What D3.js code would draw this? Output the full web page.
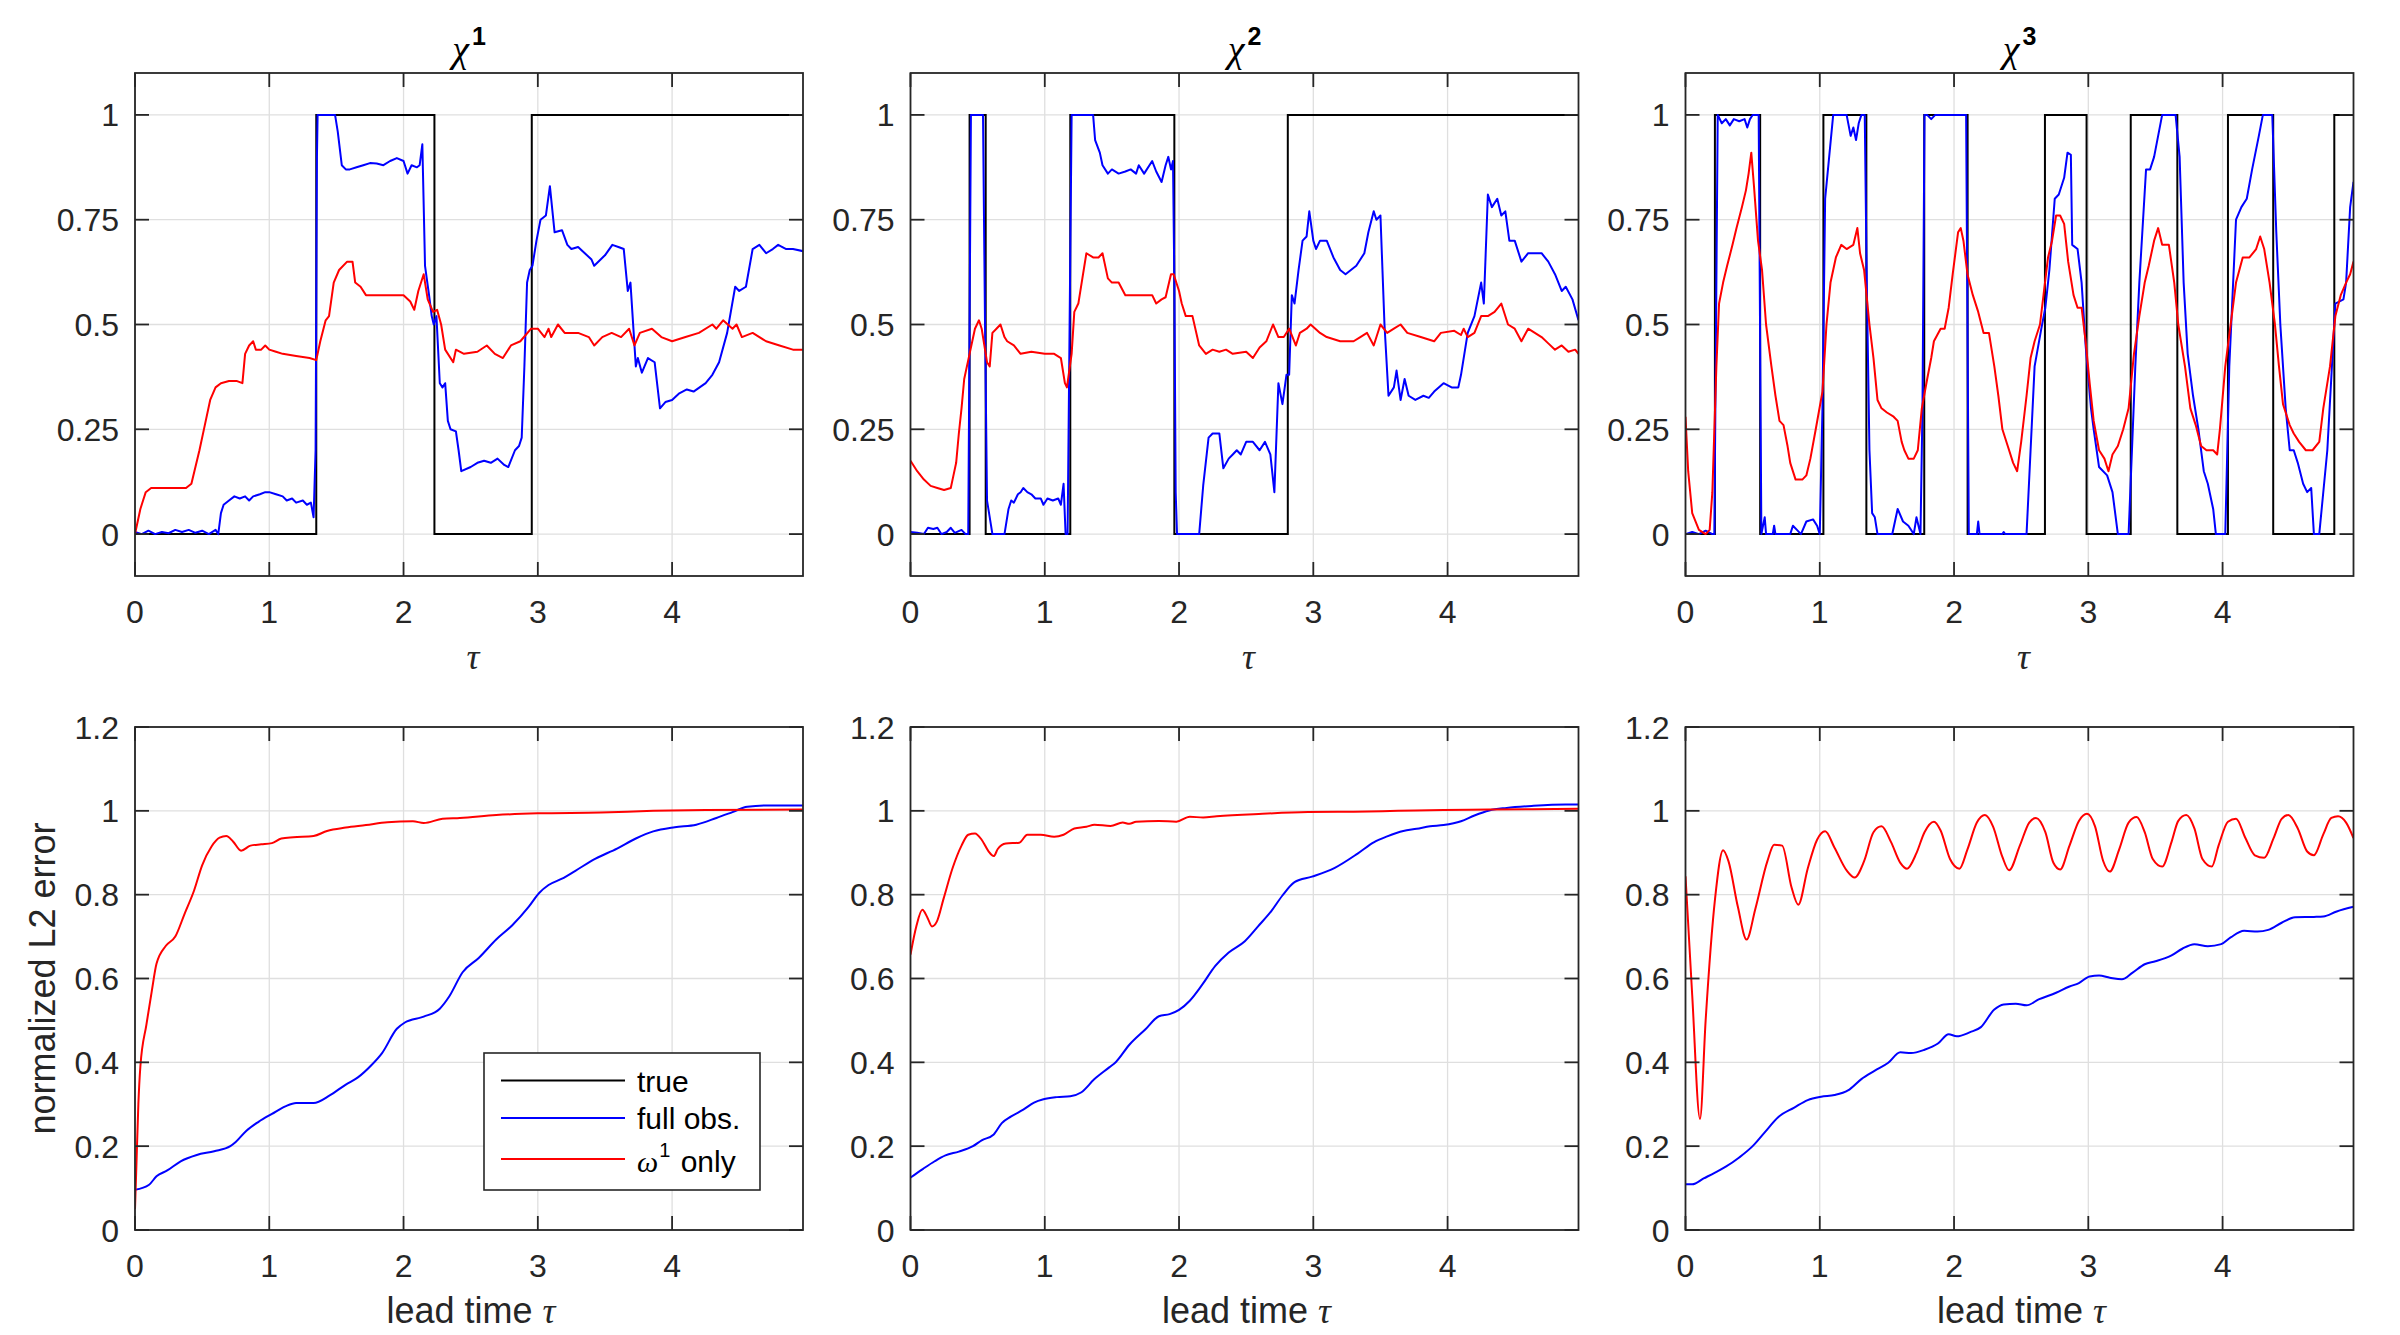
<!DOCTYPE html>
<html><head><meta charset="utf-8">
<script src="https://cdn.jsdelivr.net/npm/d3@7"></script>
<style>
html,body{margin:0;padding:0;background:#fff;}
svg{display:block;}
text{font-family:"Liberation Sans",Arial,Helvetica,sans-serif;fill:#262626;}
.it{font-family:"Liberation Serif","Times New Roman",serif;font-style:italic;}
</style></head><body>
<svg id="chart" width="2400" height="1335"></svg>
<script>
// ---------------- data ----------------
const tauTicks = [0, 1, 2, 3, 4];
const tauMax = 4.975;
const topYTicks = [0, 0.25, 0.5, 0.75, 1];
const topYLabels = ["0", "0.25", "0.5", "0.75", "1"];
const botYTicks = [0, 0.2, 0.4, 0.6, 0.8, 1, 1.2];
const botYLabels = ["0", "0.2", "0.4", "0.6", "0.8", "1", "1.2"];
const panelTitles = ["1", "2", "3"];
const legendLabels = ["true", "full obs.", "only"];

// true indicator (step) : switch times and values
const chi1TrueT = [0, 1.35, 2.23, 2.955, 4.975];
const chi1TrueV = [0, 1, 0, 1, 1];
const chi2TrueT = [0, 0.44, 0.56, 1.19, 1.965, 2.81, 4.975];
const chi2TrueV = [0, 1, 0, 1, 0, 1, 1];
const chi3TrueT = [0, 0.219, 0.556, 1.027, 1.347, 1.778, 2.101, 2.677, 2.987, 3.316, 3.663, 4.04, 4.377, 4.832, 4.975];
const chi3TrueV = [0, 1, 0, 1, 0, 1, 0, 1, 0, 1, 0, 1, 0, 1, 1];

// full observation forecast
const chi1Full = [[0,0.005],[0.05,0.0],[0.1,0.008],[0.15,0.0],[0.2,0.005],[0.25,0.002],[0.3,0.01],[0.35,0.005],[0.4,0.01],[0.45,0.003],[0.5,0.008],[0.55,0.0],[0.6,0.01],[0.62,0.0],[0.64,0.05],[0.66,0.07],[0.7,0.08],[0.74,0.09],[0.78,0.085],[0.82,0.09],[0.85,0.08],[0.88,0.09],[0.93,0.095],[0.97,0.1],[1.0,0.1],[1.05,0.095],[1.1,0.09],[1.13,0.08],[1.17,0.085],[1.2,0.075],[1.25,0.08],[1.28,0.07],[1.31,0.075],[1.33,0.04],[1.345,0.2],[1.355,0.9],[1.36,1],[1.49,1],[1.51,0.96],[1.54,0.88],[1.57,0.87],[1.6,0.87],[1.65,0.875],[1.7,0.88],[1.75,0.885],[1.8,0.884],[1.85,0.88],[1.9,0.89],[1.95,0.897],[2.0,0.89],[2.03,0.86],[2.06,0.88],[2.1,0.875],[2.12,0.88],[2.14,0.93],[2.16,0.64],[2.19,0.57],[2.21,0.52],[2.225,0.5],[2.245,0.52],[2.27,0.36],[2.29,0.35],[2.31,0.36],[2.33,0.27],[2.35,0.25],[2.39,0.245],[2.41,0.2],[2.43,0.15],[2.5,0.16],[2.55,0.17],[2.6,0.175],[2.65,0.17],[2.7,0.18],[2.75,0.165],[2.78,0.16],[2.83,0.2],[2.86,0.21],[2.88,0.23],[2.9,0.4],[2.92,0.6],[2.94,0.63],[2.96,0.64],[2.99,0.7],[3.02,0.75],[3.06,0.76],[3.09,0.83],[3.125,0.72],[3.18,0.725],[3.22,0.69],[3.25,0.68],[3.3,0.685],[3.35,0.67],[3.4,0.655],[3.42,0.64],[3.5,0.665],[3.555,0.69],[3.6,0.685],[3.64,0.68],[3.67,0.58],[3.69,0.6],[3.73,0.4],[3.745,0.42],[3.775,0.385],[3.82,0.42],[3.87,0.41],[3.91,0.3],[3.95,0.315],[4.0,0.32],[4.05,0.335],[4.11,0.345],[4.16,0.34],[4.25,0.36],[4.3,0.38],[4.35,0.41],[4.41,0.48],[4.47,0.59],[4.5,0.58],[4.55,0.59],[4.6,0.68],[4.65,0.69],[4.7,0.67],[4.75,0.68],[4.79,0.69],[4.85,0.68],[4.9,0.68],[4.975,0.675]];
const chi2Full = [[0,0.005],[0.05,0.003],[0.1,0.0],[0.13,0.015],[0.17,0.012],[0.2,0.015],[0.23,0.0],[0.27,0.005],[0.3,0.015],[0.33,0.003],[0.38,0.01],[0.41,0.0],[0.43,0.0],[0.44,0.5],[0.45,1],[0.54,1],[0.555,0.5],[0.57,0.08],[0.6,0.02],[0.61,0.0],[0.7,0.0],[0.73,0.06],[0.75,0.08],[0.77,0.075],[0.8,0.095],[0.82,0.1],[0.84,0.11],[0.87,0.1],[0.9,0.095],[0.93,0.085],[0.97,0.085],[0.99,0.07],[1.02,0.085],[1.06,0.08],[1.1,0.085],[1.12,0.07],[1.14,0.12],[1.155,0.0],[1.17,0.0],[1.185,0.5],[1.2,1],[1.36,1],[1.375,0.94],[1.41,0.91],[1.43,0.88],[1.47,0.86],[1.5,0.87],[1.55,0.86],[1.6,0.865],[1.64,0.87],[1.68,0.86],[1.7,0.88],[1.74,0.86],[1.8,0.89],[1.83,0.865],[1.87,0.84],[1.9,0.88],[1.92,0.9],[1.94,0.87],[1.955,0.89],[1.965,0.6],[1.975,0.1],[1.985,0.0],[2.15,0.0],[2.18,0.116],[2.22,0.23],[2.25,0.24],[2.3,0.24],[2.33,0.157],[2.37,0.18],[2.4,0.19],[2.43,0.2],[2.46,0.19],[2.5,0.22],[2.55,0.22],[2.6,0.2],[2.64,0.22],[2.68,0.19],[2.71,0.1],[2.74,0.36],[2.77,0.31],[2.8,0.38],[2.82,0.38],[2.84,0.57],[2.86,0.55],[2.89,0.63],[2.92,0.7],[2.95,0.71],[2.97,0.77],[3.0,0.7],[3.02,0.68],[3.05,0.7],[3.1,0.7],[3.15,0.66],[3.2,0.63],[3.24,0.62],[3.28,0.63],[3.32,0.64],[3.38,0.67],[3.41,0.72],[3.45,0.77],[3.47,0.75],[3.5,0.76],[3.53,0.5],[3.56,0.33],[3.6,0.35],[3.62,0.39],[3.65,0.32],[3.68,0.37],[3.71,0.33],[3.76,0.32],[3.82,0.33],[3.86,0.325],[3.9,0.34],[3.97,0.36],[4.03,0.35],[4.08,0.35],[4.1,0.38],[4.15,0.48],[4.2,0.52],[4.25,0.6],[4.27,0.55],[4.3,0.81],[4.33,0.78],[4.37,0.8],[4.4,0.76],[4.43,0.77],[4.46,0.7],[4.5,0.7],[4.55,0.65],[4.6,0.67],[4.7,0.67],[4.75,0.65],[4.8,0.62],[4.85,0.58],[4.88,0.59],[4.93,0.56],[4.975,0.51]];
const chi3Full = [[0,0.0],[0.05,0.005],[0.1,0.0],[0.15,0.008],[0.2,0.0],[0.215,0.0],[0.23,0.6],[0.24,1],[0.27,0.98],[0.3,0.99],[0.33,0.975],[0.36,0.99],[0.4,0.985],[0.44,0.99],[0.46,0.97],[0.48,0.99],[0.5,1],[0.545,1],[0.555,0.5],[0.565,0.0],[0.59,0.04],[0.6,0.0],[0.65,0.0],[0.66,0.02],[0.67,0.0],[0.78,0.0],[0.8,0.02],[0.83,0.01],[0.86,0.0],[0.9,0.03],[0.95,0.035],[0.98,0.02],[1.0,0.0],[1.02,0.3],[1.04,0.8],[1.07,0.9],[1.1,1],[1.2,1],[1.23,0.95],[1.25,0.97],[1.27,0.94],[1.29,0.98],[1.31,1],[1.335,1],[1.35,0.6],[1.37,0.2],[1.39,0.05],[1.41,0.04],[1.43,0.0],[1.54,0.0],[1.58,0.06],[1.62,0.03],[1.66,0.02],[1.7,0.0],[1.72,0.04],[1.75,0.0],[1.765,0.3],[1.78,1],[1.8,1],[1.83,0.99],[1.86,1],[2.09,1],[2.1,0.5],[2.11,0.0],[2.17,0.0],[2.18,0.03],[2.19,0.0],[2.36,0.0],[2.37,0.005],[2.38,0.0],[2.54,0.0],[2.57,0.2],[2.6,0.4],[2.65,0.49],[2.68,0.54],[2.71,0.63],[2.75,0.8],[2.78,0.81],[2.82,0.85],[2.845,0.91],[2.87,0.905],[2.88,0.69],[2.92,0.68],[2.95,0.6],[2.98,0.45],[3.02,0.3],[3.04,0.25],[3.08,0.16],[3.14,0.14],[3.18,0.1],[3.22,0.0],[3.3,0.0],[3.35,0.4],[3.38,0.6],[3.43,0.87],[3.46,0.87],[3.49,0.9],[3.52,0.95],[3.55,1],[3.65,1],[3.68,0.9],[3.71,0.6],[3.74,0.43],[3.78,0.33],[3.82,0.25],[3.86,0.15],[3.89,0.12],[3.93,0.06],[3.95,0.0],[4.02,0.0],[4.05,0.4],[4.1,0.75],[4.14,0.78],[4.18,0.8],[4.22,0.87],[4.27,0.95],[4.3,1],[4.37,1],[4.4,0.72],[4.43,0.5],[4.47,0.3],[4.5,0.2],[4.53,0.2],[4.56,0.17],[4.6,0.12],[4.63,0.1],[4.66,0.11],[4.68,0.0],[4.72,0.0],[4.78,0.2],[4.84,0.55],[4.9,0.56],[4.92,0.6],[4.95,0.78],[4.975,0.84]];

// omega^1 only forecast
const chi1Part = [[0,0],[0.02,0.03],[0.04,0.06],[0.06,0.08],[0.08,0.1],[0.12,0.11],[0.2,0.11],[0.3,0.11],[0.38,0.11],[0.42,0.12],[0.45,0.16],[0.48,0.2],[0.52,0.26],[0.56,0.32],[0.6,0.35],[0.64,0.36],[0.7,0.365],[0.76,0.365],[0.8,0.36],[0.82,0.43],[0.85,0.45],[0.88,0.46],[0.9,0.44],[0.94,0.44],[0.97,0.45],[1.0,0.44],[1.05,0.435],[1.1,0.43],[1.2,0.425],[1.3,0.42],[1.35,0.415],[1.38,0.46],[1.42,0.51],[1.445,0.52],[1.48,0.6],[1.52,0.63],[1.58,0.65],[1.62,0.65],[1.64,0.6],[1.68,0.59],[1.72,0.57],[1.8,0.57],[1.9,0.57],[2.0,0.57],[2.05,0.555],[2.08,0.535],[2.11,0.58],[2.15,0.62],[2.18,0.56],[2.22,0.53],[2.25,0.535],[2.28,0.5],[2.31,0.44],[2.37,0.41],[2.39,0.44],[2.45,0.43],[2.55,0.435],[2.62,0.45],[2.68,0.43],[2.74,0.42],[2.8,0.45],[2.87,0.46],[2.95,0.49],[3.0,0.49],[3.05,0.47],[3.08,0.49],[3.1,0.47],[3.15,0.5],[3.2,0.48],[3.3,0.48],[3.38,0.47],[3.42,0.45],[3.48,0.47],[3.55,0.48],[3.62,0.47],[3.68,0.49],[3.72,0.45],[3.76,0.48],[3.85,0.49],[3.92,0.47],[4.0,0.46],[4.1,0.47],[4.2,0.48],[4.3,0.5],[4.33,0.49],[4.38,0.51],[4.45,0.49],[4.48,0.5],[4.52,0.47],[4.6,0.48],[4.7,0.46],[4.8,0.45],[4.9,0.44],[4.975,0.44]];
const chi2Part = [[0,0.175],[0.05,0.15],[0.1,0.13],[0.15,0.115],[0.2,0.11],[0.25,0.105],[0.3,0.11],[0.32,0.14],[0.34,0.17],[0.36,0.24],[0.38,0.3],[0.4,0.37],[0.44,0.43],[0.48,0.49],[0.51,0.51],[0.53,0.49],[0.55,0.45],[0.57,0.41],[0.59,0.4],[0.61,0.48],[0.64,0.49],[0.67,0.5],[0.7,0.47],[0.72,0.46],[0.77,0.45],[0.82,0.43],[0.9,0.435],[1.0,0.43],[1.07,0.43],[1.12,0.42],[1.15,0.36],[1.165,0.35],[1.2,0.43],[1.22,0.53],[1.25,0.55],[1.28,0.61],[1.31,0.67],[1.36,0.66],[1.4,0.66],[1.43,0.67],[1.47,0.61],[1.5,0.6],[1.55,0.6],[1.6,0.57],[1.7,0.57],[1.8,0.57],[1.83,0.55],[1.87,0.56],[1.9,0.565],[1.94,0.62],[1.96,0.62],[2.0,0.58],[2.02,0.55],[2.05,0.52],[2.1,0.52],[2.15,0.45],[2.2,0.43],[2.25,0.44],[2.3,0.435],[2.35,0.44],[2.4,0.43],[2.5,0.435],[2.55,0.42],[2.6,0.445],[2.65,0.46],[2.7,0.5],[2.74,0.47],[2.78,0.47],[2.82,0.49],[2.87,0.45],[2.9,0.48],[2.95,0.49],[2.98,0.5],[3.05,0.48],[3.1,0.47],[3.2,0.46],[3.3,0.46],[3.35,0.47],[3.4,0.48],[3.45,0.45],[3.5,0.5],[3.55,0.48],[3.6,0.49],[3.65,0.5],[3.7,0.48],[3.8,0.47],[3.9,0.46],[3.95,0.48],[4.05,0.485],[4.1,0.475],[4.12,0.49],[4.15,0.47],[4.2,0.48],[4.25,0.52],[4.3,0.52],[4.35,0.53],[4.4,0.55],[4.45,0.5],[4.5,0.49],[4.55,0.46],[4.6,0.49],[4.65,0.48],[4.7,0.47],[4.75,0.455],[4.8,0.44],[4.85,0.45],[4.9,0.435],[4.95,0.44],[4.975,0.43]];
const chi3Part = [[0,0.28],[0.02,0.15],[0.05,0.05],[0.1,0.01],[0.15,0.0],[0.18,0.01],[0.2,0.1],[0.23,0.4],[0.25,0.55],[0.28,0.6],[0.31,0.64],[0.35,0.69],[0.38,0.73],[0.42,0.78],[0.45,0.82],[0.47,0.86],[0.49,0.91],[0.51,0.83],[0.54,0.7],[0.57,0.63],[0.6,0.5],[0.64,0.4],[0.67,0.33],[0.7,0.27],[0.73,0.26],[0.76,0.21],[0.78,0.17],[0.82,0.13],[0.87,0.13],[0.9,0.14],[0.93,0.18],[0.97,0.25],[1.02,0.34],[1.05,0.5],[1.08,0.6],[1.12,0.66],[1.16,0.69],[1.2,0.68],[1.25,0.69],[1.28,0.73],[1.3,0.67],[1.33,0.63],[1.37,0.5],[1.4,0.42],[1.43,0.32],[1.46,0.3],[1.5,0.29],[1.55,0.28],[1.58,0.27],[1.61,0.22],[1.63,0.2],[1.66,0.18],[1.7,0.18],[1.73,0.2],[1.76,0.3],[1.8,0.37],[1.83,0.42],[1.85,0.46],[1.9,0.49],[1.93,0.49],[1.96,0.54],[1.99,0.62],[2.03,0.72],[2.05,0.73],[2.07,0.7],[2.1,0.62],[2.14,0.57],[2.18,0.53],[2.22,0.48],[2.26,0.48],[2.3,0.4],[2.33,0.33],[2.36,0.25],[2.4,0.21],[2.44,0.17],[2.47,0.15],[2.5,0.22],[2.54,0.33],[2.57,0.42],[2.6,0.46],[2.64,0.5],[2.67,0.58],[2.7,0.66],[2.73,0.7],[2.76,0.76],[2.79,0.76],[2.82,0.74],[2.85,0.65],[2.89,0.57],[2.92,0.54],[2.95,0.54],[2.98,0.46],[3.01,0.36],[3.04,0.27],[3.08,0.2],[3.12,0.18],[3.15,0.15],[3.18,0.19],[3.22,0.21],[3.26,0.25],[3.3,0.3],[3.34,0.43],[3.38,0.52],[3.42,0.6],[3.45,0.64],[3.49,0.7],[3.52,0.73],[3.55,0.69],[3.6,0.69],[3.64,0.6],[3.67,0.5],[3.72,0.4],[3.76,0.3],[3.8,0.26],[3.84,0.21],[3.88,0.2],[3.93,0.2],[3.96,0.19],[3.98,0.25],[4.02,0.4],[4.06,0.5],[4.1,0.6],[4.15,0.66],[4.2,0.66],[4.25,0.68],[4.28,0.71],[4.31,0.68],[4.35,0.6],[4.39,0.5],[4.42,0.4],[4.45,0.31],[4.5,0.26],[4.53,0.24],[4.57,0.22],[4.62,0.2],[4.67,0.2],[4.72,0.22],[4.75,0.3],[4.8,0.4],[4.84,0.52],[4.88,0.57],[4.92,0.6],[4.95,0.62],[4.975,0.65]];

// normalized L2 errors
const err1Full = [[0,0.096],[0.105,0.108],[0.16,0.128],[0.24,0.142],[0.34,0.164],[0.46,0.179],[0.59,0.188],[0.71,0.2],[0.75,0.21],[0.83,0.237],[0.92,0.258],[1.02,0.277],[1.12,0.295],[1.2,0.303],[1.33,0.303],[1.45,0.321],[1.57,0.347],[1.66,0.364],[1.76,0.393],[1.84,0.422],[1.95,0.48],[2.01,0.495],[2.15,0.509],[2.27,0.528],[2.34,0.557],[2.44,0.615],[2.56,0.649],[2.69,0.693],[2.81,0.727],[2.93,0.77],[3.01,0.804],[3.08,0.823],[3.18,0.838],[3.28,0.857],[3.43,0.886],[3.59,0.91],[3.73,0.934],[3.86,0.951],[4.02,0.961],[4.18,0.967],[4.33,0.983],[4.45,0.997],[4.56,1.01],[4.72,1.013],[4.975,1.013]];
const err1Part = [[0,0.05],[0.01,0.15],[0.025,0.3],[0.04,0.39],[0.085,0.49],[0.125,0.57],[0.16,0.635],[0.23,0.678],[0.3,0.70],[0.37,0.755],[0.44,0.81],[0.5,0.87],[0.57,0.915],[0.63,0.936],[0.68,0.94],[0.73,0.927],[0.79,0.905],[0.86,0.917],[0.94,0.92],[1.02,0.923],[1.09,0.934],[1.18,0.937],[1.33,0.94],[1.43,0.952],[1.57,0.96],[1.72,0.966],[1.88,0.973],[2.07,0.975],[2.15,0.971],[2.29,0.981],[2.42,0.983],[2.69,0.99],[3.0,0.994],[3.47,0.996],[3.86,1.0],[4.25,1.002],[4.975,1.003]];
const err2Full = [[0,0.125],[0.094,0.146],[0.18,0.164],[0.26,0.178],[0.36,0.187],[0.465,0.2],[0.53,0.214],[0.62,0.228],[0.68,0.255],[0.75,0.271],[0.84,0.287],[0.92,0.304],[0.99,0.312],[1.09,0.317],[1.19,0.319],[1.27,0.328],[1.37,0.36],[1.48,0.388],[1.53,0.401],[1.63,0.442],[1.75,0.479],[1.85,0.51],[1.93,0.515],[2.0,0.525],[2.08,0.547],[2.17,0.584],[2.27,0.63],[2.37,0.662],[2.49,0.689],[2.59,0.725],[2.69,0.762],[2.77,0.798],[2.86,0.83],[2.99,0.843],[3.16,0.864],[3.33,0.898],[3.45,0.925],[3.55,0.939],[3.67,0.952],[3.77,0.957],[3.87,0.963],[3.97,0.966],[4.1,0.975],[4.2,0.989],[4.31,1.001],[4.44,1.007],[4.64,1.012],[4.88,1.015],[4.975,1.015]];
const err2Part = [[0,0.657],[0.044,0.725],[0.088,0.764],[0.128,0.744],[0.16,0.724],[0.195,0.735],[0.246,0.79],[0.313,0.863],[0.38,0.917],[0.43,0.943],[0.48,0.946],[0.53,0.931],[0.58,0.904],[0.62,0.892],[0.65,0.909],[0.71,0.922],[0.81,0.924],[0.87,0.943],[0.97,0.943],[1.07,0.938],[1.14,0.943],[1.22,0.958],[1.31,0.962],[1.37,0.967],[1.49,0.964],[1.58,0.972],[1.63,0.969],[1.68,0.974],[1.85,0.976],[1.98,0.974],[2.08,0.986],[2.18,0.984],[2.28,0.987],[2.62,0.993],[2.96,0.997],[3.3,0.998],[3.63,1.0],[3.97,1.002],[4.31,1.003],[4.975,1.005]];
const err3Full = [[0,0.109],[0.05,0.109],[0.135,0.123],[0.22,0.137],[0.3,0.151],[0.4,0.173],[0.5,0.2],[0.59,0.233],[0.69,0.269],[0.81,0.292],[0.91,0.31],[1.01,0.318],[1.11,0.322],[1.21,0.333],[1.31,0.36],[1.41,0.38],[1.51,0.399],[1.6,0.424],[1.68,0.422],[1.78,0.43],[1.88,0.445],[1.96,0.467],[2.02,0.462],[2.12,0.472],[2.2,0.484],[2.3,0.526],[2.37,0.538],[2.46,0.54],[2.54,0.536],[2.63,0.55],[2.76,0.566],[2.86,0.581],[2.93,0.589],[3.01,0.605],[3.08,0.607],[3.16,0.602],[3.25,0.598],[3.33,0.614],[3.42,0.634],[3.5,0.641],[3.62,0.655],[3.7,0.671],[3.79,0.682],[3.89,0.677],[3.99,0.682],[4.06,0.698],[4.16,0.714],[4.26,0.712],[4.34,0.716],[4.44,0.733],[4.54,0.746],[4.68,0.747],[4.75,0.748],[4.85,0.76],[4.975,0.771]];
const err3Part = [[0,0.844],[0.05,0.56],[0.108,0.265],[0.15,0.5],[0.22,0.79],[0.28,0.906],[0.32,0.88],[0.39,0.771],[0.455,0.693],[0.52,0.766],[0.61,0.88],[0.66,0.919],[0.72,0.917],[0.79,0.817],[0.84,0.776],[0.91,0.862],[0.98,0.931],[1.04,0.951],[1.11,0.912],[1.2,0.858],[1.26,0.841],[1.33,0.88],[1.4,0.949],[1.46,0.963],[1.53,0.926],[1.6,0.876],[1.65,0.862],[1.72,0.899],[1.78,0.949],[1.85,0.974],[1.9,0.953],[1.97,0.885],[2.04,0.862],[2.1,0.908],[2.17,0.972],[2.23,0.99],[2.29,0.963],[2.36,0.89],[2.41,0.858],[2.49,0.917],[2.56,0.972],[2.61,0.983],[2.68,0.949],[2.74,0.876],[2.79,0.86],[2.86,0.917],[2.93,0.976],[2.99,0.993],[3.05,0.963],[3.11,0.881],[3.16,0.855],[3.23,0.908],[3.3,0.972],[3.36,0.985],[3.42,0.949],[3.48,0.885],[3.55,0.867],[3.62,0.926],[3.67,0.976],[3.73,0.99],[3.79,0.958],[3.85,0.885],[3.92,0.867],[3.97,0.917],[4.04,0.974],[4.1,0.981],[4.17,0.935],[4.24,0.894],[4.31,0.888],[4.38,0.935],[4.44,0.981],[4.49,0.99],[4.56,0.958],[4.63,0.903],[4.68,0.894],[4.75,0.944],[4.81,0.983],[4.86,0.987],[4.92,0.972],[4.975,0.935]];

// ---------------- drawing ----------------
const svg = d3.select("#chart");
const colLeft = [135, 910.5, 1685.5];
const rowTop = [73, 727];
const plotW = 668, plotH = 503;
const tickLen = 14;
const axisColor = "#262626";
const colors = { truth: "#000000", full: "#0000ff", part: "#ff0000" };

const topData = [
  { trueT: chi1TrueT, trueV: chi1TrueV, full: chi1Full, part: chi1Part },
  { trueT: chi2TrueT, trueV: chi2TrueV, full: chi2Full, part: chi2Part },
  { trueT: chi3TrueT, trueV: chi3TrueV, full: chi3Full, part: chi3Part }
];
const botData = [
  { full: err1Full, part: err1Part },
  { full: err2Full, part: err2Part },
  { full: err3Full, part: err3Part }
];

function panel(row, col) {
  const left = colLeft[col], top = rowTop[row];
  const x = d3.scaleLinear().domain([0, tauMax]).range([left, left + plotW]);
  const y = row === 0
    ? d3.scaleLinear().domain([-0.1, 1.1]).range([top + plotH, top])
    : d3.scaleLinear().domain([0, 1.2]).range([top + plotH, top]);
  const yTicks = row === 0 ? topYTicks : botYTicks;
  const yLabels = row === 0 ? topYLabels : botYLabels;
  const g = svg.append("g");
  const id = "clip" + row + col;
  svg.append("clipPath").attr("id", id).append("rect")
    .attr("x", left).attr("y", top).attr("width", plotW).attr("height", plotH);

  // grid
  g.selectAll(".gx").data(tauTicks).enter().append("line")
    .attr("x1", d => x(d)).attr("x2", d => x(d)).attr("y1", top).attr("y2", top + plotH)
    .attr("stroke", "#dfdfdf").attr("stroke-width", 1.3);
  g.selectAll(".gy").data(yTicks).enter().append("line")
    .attr("y1", d => y(d)).attr("y2", d => y(d)).attr("x1", left).attr("x2", left + plotW)
    .attr("stroke", "#dfdfdf").attr("stroke-width", 1.3);

  const dg = g.append("g").attr("clip-path", "url(#" + id + ")");
  if (row === 0) {
    const td = topData[col];
    const pts = td.trueT.map((t, i) => [t, td.trueV[i]]);
    dg.append("path").datum(pts)
      .attr("d", d3.line().x(d => x(d[0])).y(d => y(d[1])).curve(d3.curveStepAfter))
      .attr("fill", "none").attr("stroke", colors.truth).attr("stroke-width", 2);
    const ln = d3.line().x(d => x(d[0])).y(d => y(d[1]));
    dg.append("path").datum(td.full).attr("d", ln)
      .attr("fill", "none").attr("stroke", colors.full).attr("stroke-width", 2).attr("stroke-linejoin", "round");
    dg.append("path").datum(td.part).attr("d", ln)
      .attr("fill", "none").attr("stroke", colors.part).attr("stroke-width", 2).attr("stroke-linejoin", "round");
  } else {
    const bd = botData[col];
    const ln = d3.line().x(d => x(d[0])).y(d => y(d[1])).curve(d3.curveMonotoneX);
    dg.append("path").datum(bd.full).attr("d", ln)
      .attr("fill", "none").attr("stroke", colors.full).attr("stroke-width", 2);
    dg.append("path").datum(bd.part).attr("d", ln)
      .attr("fill", "none").attr("stroke", colors.part).attr("stroke-width", 2);
  }

  // ticks
  const tk = g.append("g").attr("stroke", axisColor).attr("stroke-width", 1.8);
  tauTicks.forEach(t => {
    tk.append("line").attr("x1", x(t)).attr("x2", x(t)).attr("y1", top + plotH).attr("y2", top + plotH - tickLen);
    tk.append("line").attr("x1", x(t)).attr("x2", x(t)).attr("y1", top).attr("y2", top + tickLen);
  });
  yTicks.forEach(v => {
    tk.append("line").attr("y1", y(v)).attr("y2", y(v)).attr("x1", left).attr("x2", left + tickLen);
    tk.append("line").attr("y1", y(v)).attr("y2", y(v)).attr("x1", left + plotW).attr("x2", left + plotW - tickLen);
  });
  // box
  g.append("rect").attr("x", left).attr("y", top).attr("width", plotW).attr("height", plotH)
    .attr("fill", "none").attr("stroke", axisColor).attr("stroke-width", 1.8);

  // tick labels
  g.selectAll(".xl").data(tauTicks).enter().append("text")
    .attr("x", d => x(d)).attr("y", top + plotH + 47).attr("text-anchor", "middle")
    .attr("font-size", 32).text(d => String(d));
  g.selectAll(".yl").data(yTicks).enter().append("text")
    .attr("x", left - 16).attr("y", d => y(d) + 11.5).attr("text-anchor", "end")
    .attr("font-size", 32).text((d, i) => yLabels[i]);

  // x label
  const cx = left + plotW / 2;
  if (row === 0) {
    g.append("text").attr("class", "it").attr("x", cx + 4).attr("y", top + plotH + 93)
      .attr("text-anchor", "middle").attr("font-size", 36).text("\u03C4");
    const tt = g.append("text").attr("x", cx).attr("y", top - 11).attr("text-anchor", "middle").style("fill", "#000");
    tt.append("tspan").attr("class", "it").attr("font-size", 38).text("\u03C7");
    tt.append("tspan").attr("font-size", 25).attr("font-weight", "bold").attr("dy", -17).attr("dx", 3).text(panelTitles[col]);
  } else {
    const xl = g.append("text").attr("x", cx + 2).attr("y", top + plotH + 93).attr("text-anchor", "middle").attr("font-size", 36);
    xl.append("tspan").text("lead time ");
    xl.append("tspan").attr("class", "it").text("\u03C4");
  }
  return { x, y, left, top };
}

const panels = [];
for (let r = 0; r < 2; r++) for (let c = 0; c < 3; c++) panels.push(panel(r, c));

// y label on bottom-left
svg.append("text").attr("transform", "translate(55," + (rowTop[1] + plotH / 2) + ") rotate(-90)")
  .attr("text-anchor", "middle").attr("font-size", 36).text("normalized L2 error");

// legend in bottom-left panel
const lp = panels[3];
const lx = lp.left + 349, ly = lp.top + 326;
const lg = svg.append("g");
lg.append("rect").attr("x", lx).attr("y", ly).attr("width", 276).attr("height", 137)
  .attr("fill", "#fff").attr("stroke", axisColor).attr("stroke-width", 1.6);
const rowsY = [27.5, 65, 106];
const rowColors = [colors.truth, colors.full, colors.part];
rowsY.forEach((ry, i) => {
  lg.append("line").attr("x1", lx + 17).attr("x2", lx + 141).attr("y1", ly + ry).attr("y2", ly + ry)
    .attr("stroke", rowColors[i]).attr("stroke-width", 2);
});
lg.append("text").attr("x", lx + 153).attr("y", ly + rowsY[0] + 11).attr("font-size", 30).style("fill", "#000").text(legendLabels[0]);
lg.append("text").attr("x", lx + 153).attr("y", ly + rowsY[1] + 11).attr("font-size", 30).style("fill", "#000").text(legendLabels[1]);
const l3 = lg.append("text").attr("x", lx + 153).attr("y", ly + rowsY[2] + 12.5).attr("font-size", 30).style("fill", "#000");
l3.append("tspan").attr("class", "it").text("\u03C9");
l3.append("tspan").attr("font-size", 20).attr("dy", -15).attr("dx", 1).text("1");
l3.append("tspan").attr("dy", 15).attr("dx", 2).text(" " + legendLabels[2]);
</script>
</body></html>
